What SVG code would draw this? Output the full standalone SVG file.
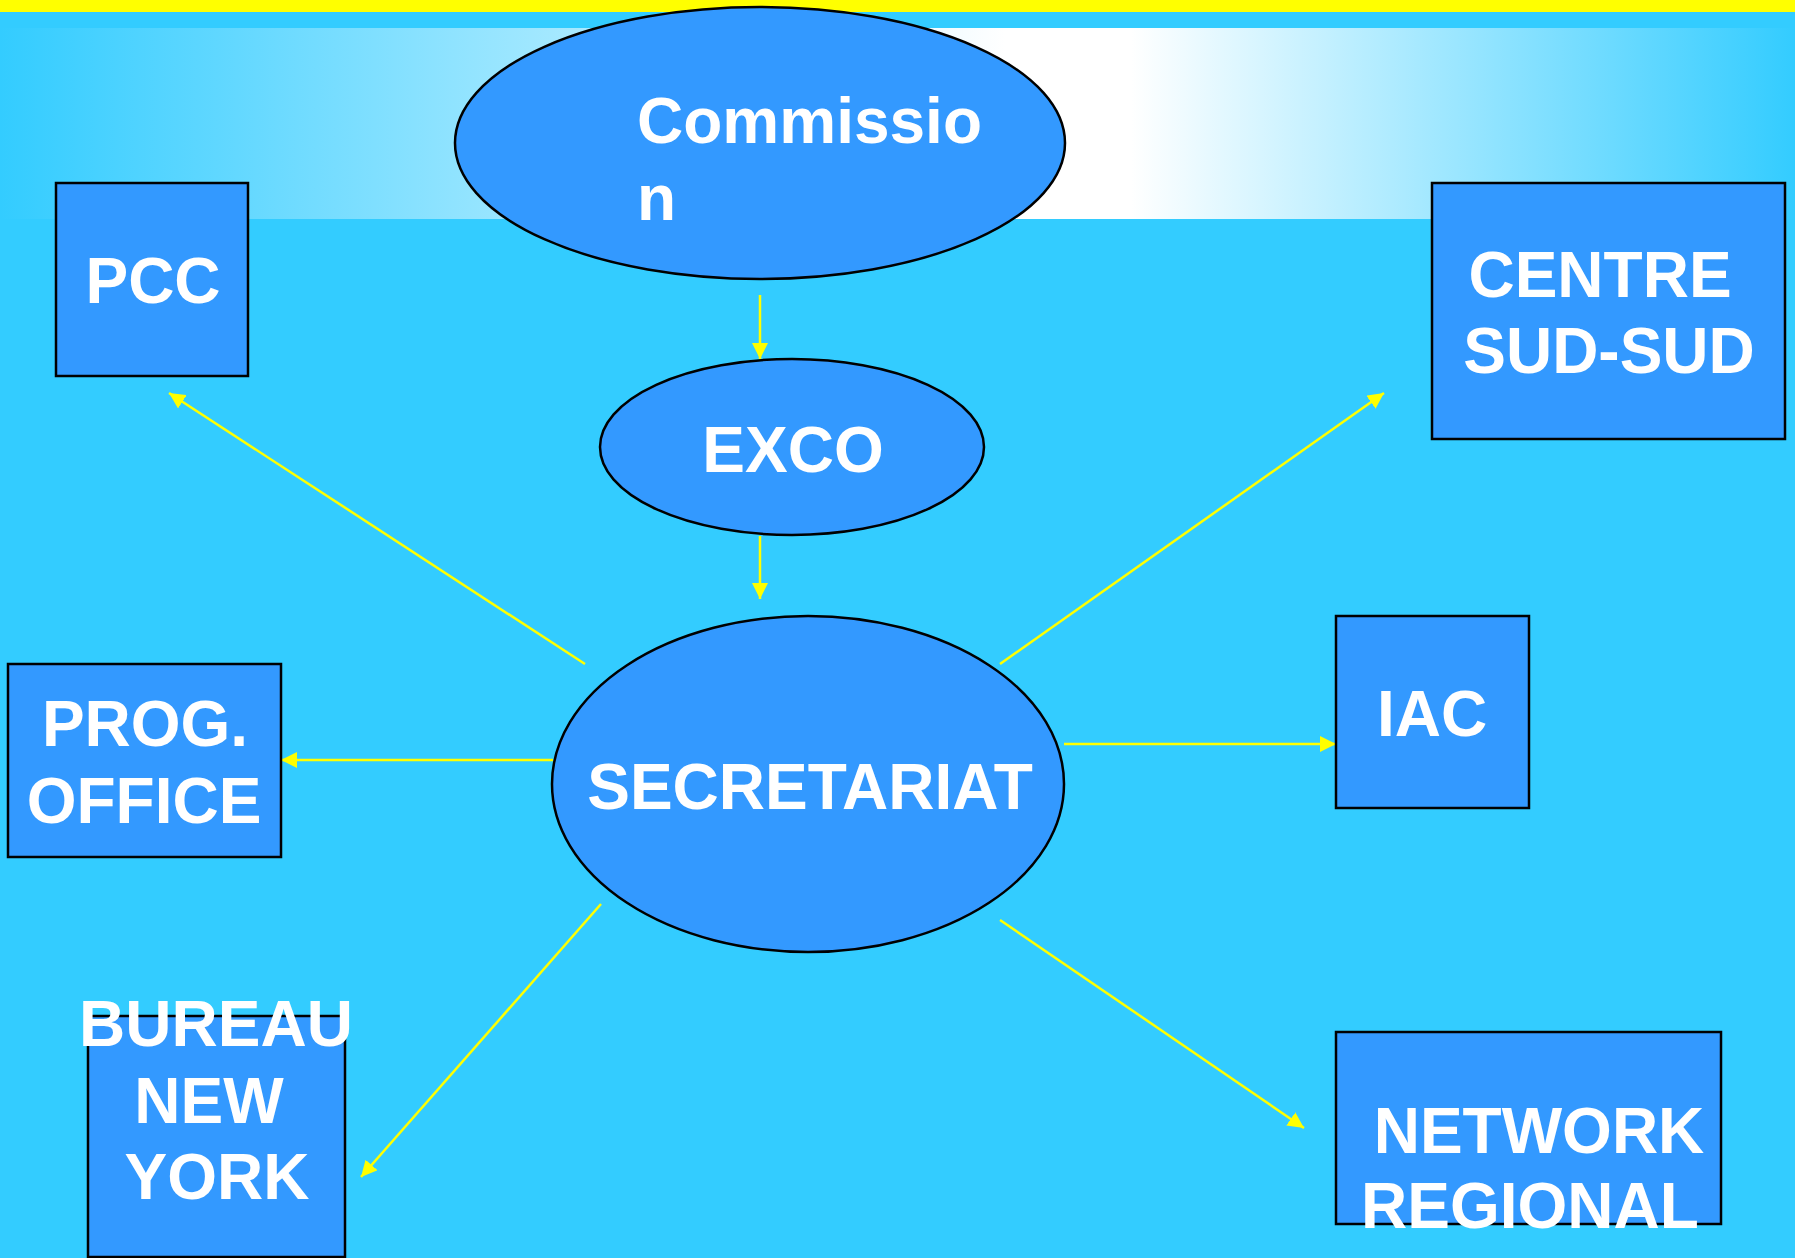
<svg xmlns="http://www.w3.org/2000/svg" width="1795" height="1258" viewBox="0 0 1795 1258">
<defs>
<linearGradient id="band" x1="0" y1="0" x2="1795" y2="0" gradientUnits="userSpaceOnUse">
<stop offset="0" stop-color="#33CCFF"/>
<stop offset="0.56" stop-color="#FFFFFF"/>
<stop offset="0.63" stop-color="#FFFFFF"/>
<stop offset="1" stop-color="#33CCFF"/>
</linearGradient>
<marker id="arr" viewBox="0 0 16 16" refX="16" refY="8" markerWidth="16" markerHeight="16" markerUnits="userSpaceOnUse" orient="auto">
<path d="M0,0 L16,8 L0,16 Z" fill="#FFFF00"/>
</marker>
</defs>
<style>
.node{fill:#3399FF;stroke:#000;stroke-width:2.5}
.lbl{font-family:"Liberation Sans",Arial,sans-serif;font-weight:bold;font-size:64px;fill:#FFFFFF}
.c{text-anchor:middle}
.conn{stroke:#FFFF00;stroke-width:2.5;fill:none;marker-end:url(#arr)}
</style>
<rect x="0" y="0" width="1795" height="1258" fill="#33CCFF"/>
<rect x="0" y="0" width="1795" height="12" fill="#FFFF00"/>
<rect x="0" y="28" width="1795" height="191" fill="url(#band)"/>

<g id="connectors">
<line class="conn" x1="760" y1="295" x2="760" y2="359"/>
<line class="conn" x1="760" y1="536" x2="760" y2="599"/>
<line class="conn" x1="585" y1="664" x2="169" y2="393"/>
<line class="conn" x1="1000" y1="664" x2="1384" y2="393"/>
<line class="conn" x1="553" y1="760" x2="281" y2="760"/>
<line class="conn" x1="1064" y1="744" x2="1336" y2="744"/>
<line class="conn" x1="601" y1="904" x2="361" y2="1177"/>
<line class="conn" x1="1000" y1="920" x2="1304" y2="1128"/>
</g>

<g id="commission">
<ellipse class="node" cx="760" cy="143" rx="305" ry="136"/>
<text class="lbl" x="637" y="143">Commissio</text>
<text class="lbl" x="637" y="220">n</text>
</g>
<g id="exco">
<ellipse class="node" cx="792" cy="447" rx="192" ry="88"/>
<text class="lbl c" x="793" y="472">EXCO</text>
</g>
<g id="secretariat">
<ellipse class="node" cx="808" cy="784" rx="256" ry="168"/>
<text class="lbl c" x="810" y="809">SECRETARIAT</text>
</g>
<g id="pcc">
<rect class="node" x="56" y="183" width="192" height="193"/>
<text class="lbl c" x="153" y="303">PCC</text>
</g>
<g id="centre-sud-sud">
<rect class="node" x="1432" y="183" width="353" height="256"/>
<text class="lbl c" x="1600" y="297">CENTRE</text>
<text class="lbl c" x="1609" y="373">SUD-SUD</text>
</g>
<g id="prog-office">
<rect class="node" x="8" y="664" width="273" height="193"/>
<text class="lbl c" x="145" y="746">PROG.</text>
<text class="lbl c" x="144" y="823">OFFICE</text>
</g>
<g id="iac">
<rect class="node" x="1336" y="616" width="193" height="192"/>
<text class="lbl c" x="1432" y="736">IAC</text>
</g>
<g id="bureau-new-york">
<rect class="node" x="88" y="1016" width="257" height="241"/>
<text class="lbl c" x="216" y="1046">BUREAU</text>
<text class="lbl c" x="209" y="1123">NEW</text>
<text class="lbl c" x="217" y="1199">YORK</text>
</g>
<g id="network-regional">
<rect class="node" x="1336" y="1032" width="385" height="192"/>
<text class="lbl c" x="1539" y="1153">NETWORK</text>
<text class="lbl c" x="1530" y="1228">REGIONAL</text>
</g>
</svg>
